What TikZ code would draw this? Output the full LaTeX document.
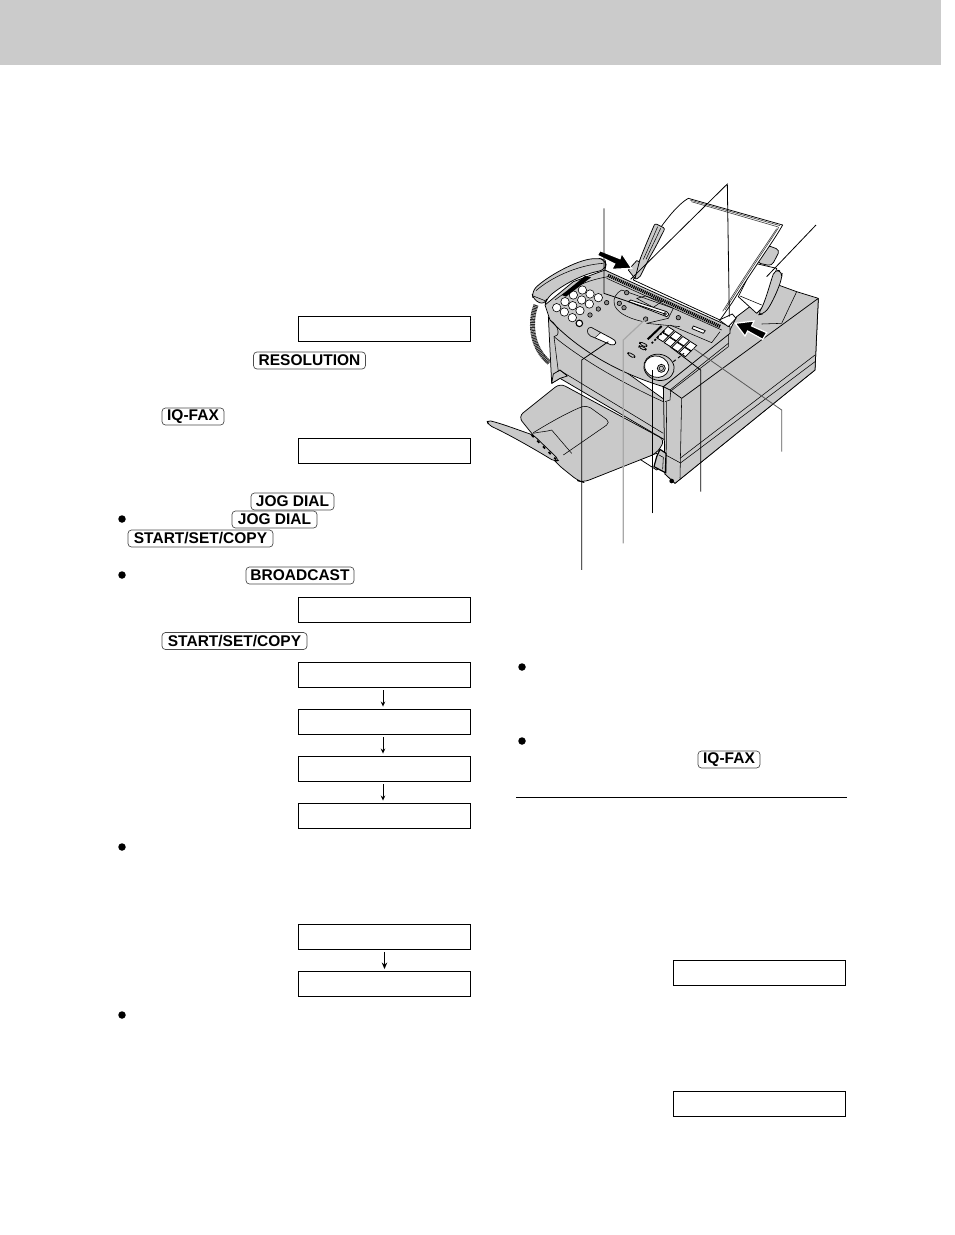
\documentclass[tikz,border=0pt]{standalone}
\usepackage{fontspec}
\setmainfont{Liberation Sans}
\definecolor{hdr}{HTML}{CBCBCB}
\definecolor{fax}{HTML}{C9C9C9}
\definecolor{leadgray}{HTML}{A8A8A8}
\usetikzlibrary{arrows.meta}
\tikzset{
 lcd/.style={draw=black,line width=.9pt,fill=white,minimum width=172pt,minimum height=25pt,inner sep=0pt},
 keycap/.style={draw=black!70,line width=.7pt,fill=white,rounded corners=3.5pt,inner sep=0pt,minimum height=17pt,font=\fontsize{15.5}{16}\selectfont\bfseries},
 bul/.style={circle,fill=black,inner sep=0pt,minimum size=7.5pt},
 flow/.style={-{Stealth[length=5pt,width=4.5pt]},line width=.9pt,shorten <=2.5pt,shorten >=2.5pt},
 flowb/.style={-{Stealth[length=6.5pt,width=5.5pt]},line width=1.3pt,shorten <=2pt,shorten >=2pt},
 fx/.style={draw=black,line width=.75pt,line join=round,fill=fax},
 fw/.style={draw=black,line width=.75pt,line join=round,fill=white},
 ln/.style={draw=black,line width=.55pt,line join=round},
 lead/.style={draw=black,line width=.8pt},
 leadg/.style={draw=leadgray,line width=1.2pt},
 bigarrow/.style={draw=white,line width=1.2pt,fill=black,line join=miter},
 btn/.style={circle,draw=black,line width=.6pt,fill=white,minimum size=8.4pt,inner sep=0pt},
 dot/.style={circle,draw=black,line width=.6pt,fill=black!45,minimum size=4.5pt,inner sep=0pt},
}
\begin{document}
\begin{tikzpicture}[x=1pt,y=-1pt]
\useasboundingbox (0,0) rectangle (954,1235);
\fill[hdr] (0,0) rectangle (941,65);
% LCD boxes
\foreach \n/\yy in {la/329,lb/451,lc/610,ld/675,le/722,lf/769,lg/816,lh/937,li/984}
  \node[lcd] (\n) at (384.5,\yy) {};
\node[lcd] (lj) at (759.5,973) {};
\node[lcd] (lk) at (759.5,1104) {};
\coordinate (d0) at ([xshift=-1.5pt]ld.south);
\coordinate (e0) at ([xshift=-1.5pt]le.south);
\coordinate (f0) at ([xshift=-1.5pt]lf.south);
\draw[flow] (d0) -- (d0 |- le.north);
\draw[flow] (e0) -- (e0 |- lf.north);
\draw[flow] (f0) -- (f0 |- lg.north);
\draw[flowb] (lh.south) -- (li.north);
% keys
\node[keycap,minimum width=112pt] (k1) at (309.5,360.5) {\raisebox{-.6pt}{RESOLUTION}};
\node[keycap,minimum width=62pt] (k2) at (193,416.5) {\raisebox{-.6pt}{IQ-FAX}};
\node[keycap,minimum width=83pt] (k3) at (292.5,501.5) {\raisebox{-.6pt}{JOG DIAL}};
\node[keycap,minimum width=85pt] (k4) at (274.5,519.5) {\raisebox{-.6pt}{JOG DIAL}};
\node[keycap,minimum width=145pt] (k5) at (200.5,538.5) {\raisebox{-.6pt}{START/SET/COPY}};
\node[keycap,minimum width=108pt] (k6) at (300,575.5) {\raisebox{-.6pt}{BROADCAST}};
\node[keycap,minimum width=145pt] (k7) at (234.5,641) {\raisebox{-.6pt}{START/SET/COPY}};
\node[keycap,minimum width=62pt] (k8) at (729,759.5) {\raisebox{-.6pt}{IQ-FAX}};
% bullets
\foreach \n/\a/\b in {b1/122/519,b2/122/575,b3/122/847,b4/122/1015,b5/522/667,b6/522/741}
  \node[bul] (\n) at (\a,\b) {};
% rule
\coordinate (r1) at (516,797); \coordinate (r2) at (847,797);
\draw[line width=.9pt] (r1) -- (r2);
% ===== Fax =====
\begin{scope}[shift={(480,170)},scale=1/3]
% rear body
\path[fx] (745,490) -- (770,440) -- (895,345) -- (950,365) -- (1015,385) -- (1005,600) -- (585,940) -- (555,912) -- (550,650) -- cycle;
\draw[ln] (905,460) -- (950,365);
\draw[ln] (845,462) -- (905,460);
% under-tray foot
\path[fw] (480,868) -- (530,850) -- (555,880) -- (530,900) -- cycle;
% tray
\path[fx,rounded corners=6pt] (115,740) -- (240,640) -- (555,810) -- (530,850) -- (310,937) -- (295,933) -- (235,885) -- (155,790) -- cycle;
\draw[ln,rounded corners=5pt] (160,788) .. controls (230,745) and (280,720) .. (320,705) -- (392,757) -- (250,855);
\draw[ln] (160,790) .. controls (180,785) and (200,785) .. (215,780) -- (275,850);
% flap
\path[fx,rounded corners=4pt] (20,750) .. controls (70,762) and (120,782) .. (160,795) -- (238,870) -- (225,875) .. controls (160,835) and (80,790) .. (25,765) -- cycle;
\draw[line width=1.8pt,dash pattern=on 3pt off 5pt] (155,795) -- (228,868);
% front body
\path[fx] (205,440) -- (215,640) -- (240,625) -- (555,810) -- (555,690) -- cycle;
\path[fx] (215,640) -- (240,625) -- (262,618) -- (240,600) -- (220,612) -- cycle;
\draw[ln] (238,600) -- (550,790);
\draw[ln] (222,500) -- (235,605);
% right front unit
\path[fx] (550,650) -- (570,660) -- (605,685) -- (1015,385) -- (1005,600) -- (585,940) -- (555,912) -- cycle;
\draw[ln] (605,685) -- (600,925);
\draw[ln] (560,695) -- (558,910);
\draw[ln] (572,665) -- (570,690) -- (555,695);
\draw[ln] (600,865) -- (1005,555);
\draw[ln] (600,880) -- (1005,575);
\draw[ln] (557,855) -- (600,878);
\draw[ln] (570,665) -- (745,530) -- (745,490);
\fill[black] (575,933) circle (7);
% clip / foot
\path[fx,line width=1.2pt] (540,838) -- (558,850) -- (556,908) -- (522,890) -- (530,860) -- cycle;
\draw[ln] (537,855) -- (550,862) -- (548,898);
% paper back support
\path[fx,rounded corners=4pt] (860,225) -- (900,240) -- (875,288) -- (830,278) -- cycle;
\path[fw] (775,380) -- (825,280) -- (890,295) -- (860,400) -- (830,430) -- cycle;
\path[fx,rounded corners=5pt] (832,435) .. controls (855,400) and (870,340) .. (885,298) -- (907,305) -- (905,325) .. controls (890,370) and (870,410) .. (850,432) -- cycle;
\draw[ln] (780,378) -- (845,405);
% paper
\path[fw] (625,85) -- (908,165) .. controls (880,215) and (830,280) .. (755,400) -- (720,450) -- (460,330) -- (480,270) .. controls (520,200) and (580,110) .. (625,85) -- cycle;
\draw[line width=.6pt,black!75] (630,90) -- (900,167);
\draw[line width=.6pt,black!75] (634,95) -- (895,171);
\draw[line width=.6pt,black!75] (896,172) .. controls (870,215) and (820,285) .. (735,420);
\draw[line width=.6pt,black!75] (890,176) .. controls (865,215) and (815,285) .. (728,424);
% left guide
\path[fx,rounded corners=2pt] (462,328) -- (480,268) .. controls (497,225) and (510,195) .. (525,160) -- (555,175) .. controls (540,205) and (525,235) .. (510,260) -- (478,324) -- cycle;
\draw[line width=.5pt] (490,268) .. controls (505,235) and (520,200) .. (533,170);
\draw[line width=.5pt] (498,268) .. controls (513,235) and (528,205) .. (542,175);
% guide base left
\path[fx] (445,300) -- (470,272) -- (478,275) -- (465,326) -- cycle;
% panel
\path[fx] (195,405) -- (280,335) -- (375,300) -- (385,305) -- (750,470) -- (750,490) -- (550,650) .. controls (420,610) and (300,545) .. (210,450) -- cycle;
\draw[ln] (225,390) .. controls (270,355) and (320,330) .. (385,320);
% right guide foot
\path[fw] (718,450) -- (757,432) -- (768,445) -- (745,470) -- cycle;
% rail
\draw[line width=3.4pt,dash pattern=on 1.2pt off .8pt] (384,316) -- (722,470);
\draw[ln] (380,325) -- (725,480);
\draw[ln] (720,485) -- (695,518) -- (570,465);
\draw[ln] (210,450) .. controls (240,470) and (240,500) .. (222,500);
\draw[ln] (222,500) .. controls (320,580) and (450,650) .. (550,695);
\draw[ln] (550,650) -- (550,695);
\draw[ln] (570,660) -- (745,520);
% display group
\draw[ln] (425,360) -- (580,415) -- (565,445) -- (500,460);
\draw[ln] (425,360) .. controls (395,375) and (375,430) .. (490,455);
\draw[ln] (500,460) -- (600,470);
\draw[ln] (470,385) -- (497,378) -- (545,395) -- (520,412) -- cycle;
\path[fw] (445,395) -- (452,390) -- (560,425) -- (567,433) -- (560,440) -- cycle;
\node[dot,minimum size=3pt] (s0) at (555,432) {};
% keypad
\foreach \x/\y [count=\i] in {230/413,255/395,280/375,307/360,330/372,305/390,278/407,253/426,277/443,300/422,328/402,355/383}
  \node[btn] (pad\i) at (\x,\y) {};
\node[btn,minimum size=6.5pt,line width=1.1pt] (pad13) at (298,460) {};
\foreach \x/\y [count=\i] in {380/398,355/417,330/435,440/368,418/400,432/413,497/447,595/443}
  \node[dot] (dt\i) at (\x,\y) {};
% pills
\path[fw] (333,472) -- (395,505) .. controls (412,512) and (412,528) .. (392,524) -- (332,498) .. controls (318,490) and (320,472) .. (333,472) -- cycle;
\path[fill=fax,draw=black,line width=.4pt] (333,472) .. controls (320,472) and (318,490) .. (332,498) -- (345,503) -- (362,488) -- cycle;
\path[fw] (640,468) -- (676,482) -- (670,490) -- (636,476) -- cycle;
\path[fx,rounded corners=2pt] (445,546) -- (467,558) -- (462,565) -- (442,553) -- cycle;
\path[fx,rounded corners=2pt] (480,515) -- (503,525) -- (498,532) -- (478,522) -- cycle;
\path[fx,rounded corners=2pt] (478,526) -- (500,536) -- (496,542) -- (476,532) -- cycle;
% function keys
\foreach \i in {0,1,2,3} \foreach \j in {0,1}
 \path[fill=white,draw=black,line width=.8pt,shift={(530+\i*22.5+\j*17.5,503+\i*15-\j*17.5)}] (0,0) -- (16,-16) -- (35,-4) -- (19,12) -- cycle;
\draw[line width=2pt] (503,508) -- (545,468);
\draw[line width=1.6pt,dash pattern=on 2pt off 2pt] (515,520) -- (555,480);
\draw[line width=1pt,dash pattern=on 3pt off 3pt] (580,575) -- (612,550);
% dial
\draw[fx,rotate around={-15:(537,592)}] (537,592) ellipse (46 and 39);
\draw[fw,rotate around={-15:(530,590)}] (530,590) ellipse (37 and 32);
\draw[fx] (544,595) circle (12);
\draw[ln] (544,595) circle (6.5);
% handset
\path[fx,rounded corners=6pt] (155,365) .. controls (200,320) and (290,270) .. (355,265) -- (375,268) -- (378,285) -- (375,300) .. controls (320,310) and (260,335) .. (200,385) -- (195,405) -- (160,390) -- cycle;
\draw[ln] (168,362) .. controls (210,325) and (290,285) .. (370,280);
\draw[ln] (160,378) -- (195,392);
\fill[black] (245,375) -- (315,318) -- (333,322) -- (258,380) -- cycle;
% cord
\draw[line width=5pt,draw=black!85,dash pattern=on 1pt off .6pt] (168,405) .. controls (150,450) and (150,530) .. (208,578);
% big arrows
\path[bigarrow] (352,256) -- (360,242) -- (420,266) -- (425,250) -- (455,295) -- (395,298) -- (404,282) -- cycle;
\path[bigarrow] (860,488) -- (848,508) -- (803,483) -- (795,498) -- (766,460) -- (822,453) -- (815,468) -- cycle;
% leaders
\coordinate (a0) at (742,42); \coordinate (a1) at (452,328); \coordinate (a2) at (748,440);
\draw[lead] (a1) -- (a0) -- (a2);
\coordinate (b0) at (372,115); \coordinate (b1) at (372,370); \coordinate (b2) at (555,432);
\draw[lead] (b0) -- (b1) -- (b2);
\coordinate (c0) at (1008,165); \coordinate (c1) at (860,320);
\draw[lead] (c0) -- (c1);
\coordinate (dd0) at (905,845); \coordinate (dd1) at (905,720); \coordinate (dd2) at (640,535);
\draw[lead,draw=black!65] (dd0) -- (dd1) -- (dd2);
\coordinate (ee0) at (662,965); \coordinate (ee1) at (662,600); \coordinate (ee2) at (570,530);
\draw[lead] (ee0) -- (ee1) -- (ee2);
\coordinate (ff0) at (518,1030); \coordinate (ff1) at (518,600);
\draw[lead] (ff0) -- (ff1);
\coordinate (gg0) at (430,1120); \coordinate (gg1) at (430,510); \coordinate (gg2) at (497,447);
\draw[leadg] (gg0) -- (gg1) -- (gg2);
\coordinate (hh0) at (305,1200); \coordinate (hh1) at (305,570); \coordinate (hh2) at (385,515);
\draw[lead] (hh0) -- (hh1) -- (hh2);
\end{scope}
\end{tikzpicture}
\end{document}
